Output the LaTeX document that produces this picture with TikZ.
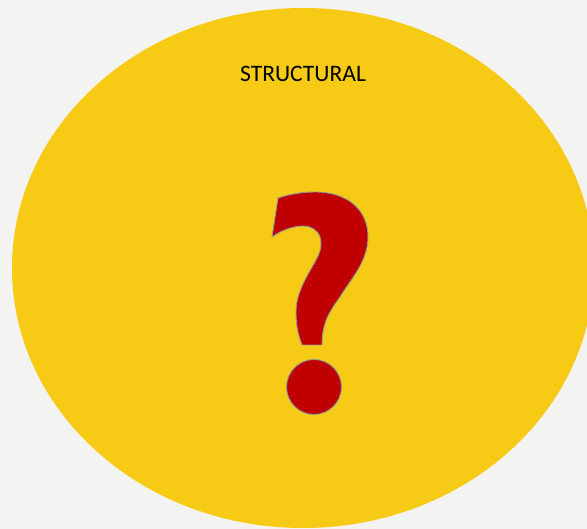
\documentclass[tikz,border=0pt]{standalone}
\usepackage{fontspec}
\setsansfont{Carlito}
\usetikzlibrary{positioning}
\definecolor{pagebg}{HTML}{F3F3F1}
\definecolor{sunfill}{HTML}{F7CB15}
\definecolor{markred}{HTML}{C00000}
\definecolor{markline}{HTML}{8C9E9A}

\begin{document}
\begin{tikzpicture}[
  x=1pt, y=-1pt,
  every node/.style={font=\sffamily},
  blob/.style={fill=sunfill, draw=none},
  title/.style={font=\sffamily\fontsize{23.6}{26}\selectfont, text=black, inner sep=0pt},
  qmark/.style={fill=markred, draw=markline, line width=0.9pt, line join=round}
]
\fill[pagebg] (0,0) rectangle (587,529);
\useasboundingbox (0,0) rectangle (587,529);
% yellow disc
\begin{scope}
\clip (0,0) rectangle (587,529);
\fill[blob] (303,268) ellipse [x radius=291pt, y radius=260pt];
\end{scope}
\node[title] (head) at (303,74) {STRUCTURAL};
% question mark
\draw[qmark] (272,237) -- (278,198)
  .. controls (290,194) and (302,192) .. (315,192)
  .. controls (348,192) and (368,210) .. (368,237)
  .. controls (368,262) and (350,280) .. (340,297)
  .. controls (330,311) and (322,322) .. (322,345)
  -- (302,345)
  .. controls (298,335) and (296,325) .. (296,312)
  .. controls (296,290) and (310,272) .. (317,258)
  .. controls (321,250) and (322,244) .. (320,237)
  .. controls (317,229) and (310,226) .. (303,226)
  .. controls (293,226) and (280,231) .. cycle;
\draw[qmark] (314,387) circle [radius=27.5pt];
\end{tikzpicture}
\end{document}
